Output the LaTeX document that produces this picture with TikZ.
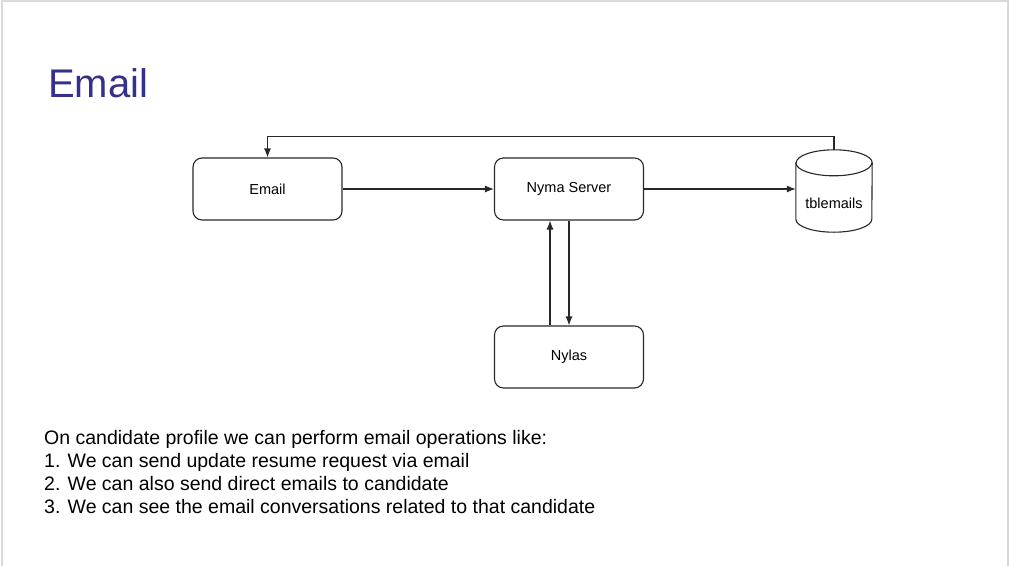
\documentclass[tikz,border=0pt]{standalone}
\usepackage{fontspec}
\setmainfont{Liberation Sans}
\usepackage{tikz}
\usetikzlibrary{positioning,arrows.meta}
\definecolor{titleblue}{RGB}{52,48,140}
\definecolor{linegray}{RGB}{40,40,40}
\tikzset{my arrow/.style={
  linegray,
  line width=1.1pt,
  -{Latex[length=9pt,width=7pt]}
  },
  my box/.style={
  draw=linegray,
  line width=1.1pt,
  rounded corners=9pt,
  minimum width=149pt,
  minimum height=62pt,
  font=\fontsize{14.5}{17}\selectfont
  }
}

\begin{document}
\begin{tikzpicture}[x=1pt,y=-1pt]
    \useasboundingbox (0,0) rectangle (1011,565);
    \draw[black!15,line width=1.2pt] (2,1) rectangle (1008,570);

    \node[anchor=base west,inner sep=0,text=titleblue,font=\fontsize{40}{48}\selectfont] (T) at (48,97) {Email};

    \node[my box] (E) at (267.5,189) {Email};
    \node[my box] (S) at (569,189) {Nyma Server};
    \node[my box] (N) at (569,357) {Nylas};

    \node[minimum width=76pt,minimum height=82pt,inner sep=0] (D) at (834,191) {};
    \draw[linegray,line width=1.1pt] ([yshift=-13pt]D.north west) -- ([yshift=13pt]D.south west)
        arc[start angle=180,end angle=0,x radius=38,y radius=13] -- ([yshift=-13pt]D.north east)
        arc[start angle=0,end angle=-180,x radius=38,y radius=13] -- cycle;
    \draw[linegray,line width=1.1pt] ([yshift=-13pt]D.north west) arc[start angle=180,end angle=0,x radius=38,y radius=13];
    \node[font=\fontsize{14.5}{17}\selectfont] (DL) at (834,203) {tblemails};

    \draw[my arrow]  (E) to (S);
    \draw[my arrow]  (S.east) to (S.east -| D.west);
    \draw[my arrow]  ([xshift=-19pt]N.north) to ([xshift=-19pt]S.south);
    \draw[my arrow]  (S.south) to (N.north);
    \draw[my arrow]  (D.north) -- ++(0,-13) -| (E.north);

    \foreach \t [count=\n] in {On candidate profile we can perform email operations like:,1. We can send update resume request via email,2. We can also send direct emails to candidate,3. We can see the email conversations related to that candidate}
        \node[anchor=base west,inner sep=0,font=\fontsize{19.5}{23}\selectfont] (L\n) at (44,421+23*\n) {\t};
\end{tikzpicture}
\end{document}
